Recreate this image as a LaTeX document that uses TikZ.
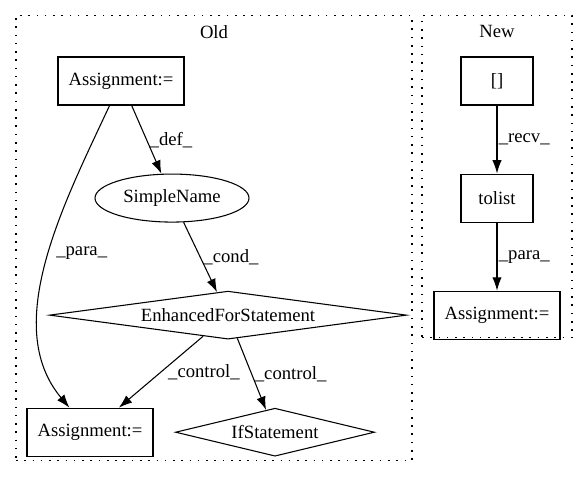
\documentclass[tikz,border=0pt]{standalone}
\usepackage{fontspec}
\setmainfont{Liberation Serif}
\usepackage{tikz}
\usetikzlibrary{positioning,arrows.meta,shapes.geometric}

\begin{document}
\begin{tikzpicture}[
    x=0.75pt,y=0.75pt,
    font=\fontsize{14}{16}\selectfont,
    line width=0.8pt,
    box/.style={draw,rectangle,minimum width=94.5pt,minimum height=36pt,inner sep=2pt},
    smallbox/.style={box,minimum width=54pt},
    oval/.style={draw,ellipse,minimum width=115.5pt,minimum height=36pt,inner sep=0pt},
    cond/.style={draw,diamond,minimum height=36pt,inner sep=0pt},
    cluster/.style={draw,dash pattern=on 1.2pt off 5pt,line width=0.9pt},
    lbl/.style={midway,right,inner sep=2pt},
    edge/.style={-{Latex[length=10pt,width=7pt]}},
    node distance=51pt
  ]
    \useasboundingbox (0,0) rectangle (587,-480);
    % clusters
    \node[cluster,minimum width=297pt,minimum height=334pt] (old) at (214,-238) {};
    \node[cluster,minimum width=112.5pt,minimum height=242pt] (new) at (497,-176.5) {};
    \node[below=4pt of old.north] (oldlbl) {Old};
    \node[below=4pt of new.north] (newlbl) {New};
    % old
    \node[box] (asgold) at (121,-81) {Assignment:=};
    \node[oval,below=of asgold,xshift=38.25pt] (simple) {SimpleName};
    \node[cond,aspect=7.4,minimum width=267.75pt,below=of simple,xshift=42pt] (efs) {EnhancedForStatement};
    \node[box,below=of efs,xshift=-103.5pt] (asgcopy) {Assignment:=};
    \node[cond,aspect=4.1,minimum width=149.25pt,below=of efs,xshift=35.25pt] (ifst) {IfStatement};
    % new
    \node[smallbox] (brk) at (497,-81) {[]};
    \node[smallbox,below=of brk] (tolist) {tolist};
    \node[box,below=of tolist] (asgnew) {Assignment:=};
    \draw[edge] (asgold) -- (simple) node[lbl] {\_def\_};
    \draw[edge] (asgold) to[out=245,in=130,looseness=0.9] node[lbl,pos=0.47,inner sep=5pt] {\_para\_} (asgcopy);
    \draw[edge] (simple) -- (efs) node[lbl] {\_cond\_};
    \draw[edge] (efs) -- (asgcopy) node[lbl,inner sep=5pt] {\_control\_};
    \draw[edge] (efs) -- (ifst) node[lbl] {\_control\_};
    \draw[edge] (brk) -- (tolist) node[lbl,inner sep=1pt] {\_recv\_};
    \draw[edge] (tolist) -- (asgnew) node[lbl,inner sep=1pt] {\_para\_};
  \end{tikzpicture}
\end{document}
